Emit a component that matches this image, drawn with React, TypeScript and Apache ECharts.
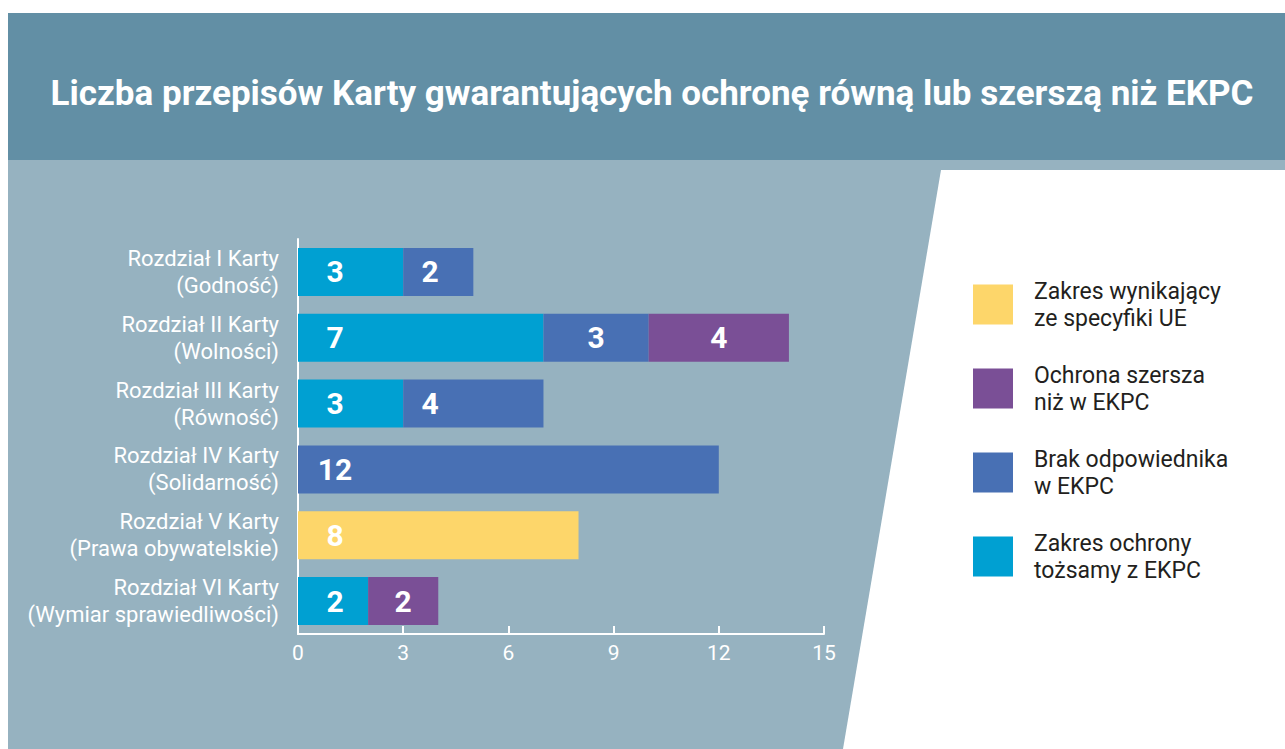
import React, { useEffect, useRef } from "react";
import * as echarts from "echarts";

const titleText = "Liczba przepisów Karty gwarantujących ochronę równą lub szerszą niż EKPC";

const categories = [
  "Rozdział I Karty\n(Godność)",
  "Rozdział II Karty\n(Wolności)",
  "Rozdział III Karty\n(Równość)",
  "Rozdział IV Karty\n(Solidarność)",
  "Rozdział V Karty\n(Prawa obywatelskie)",
  "Rozdział VI Karty\n(Wymiar sprawiedliwości)",
];

const seriesNames = [
  "Zakres ochrony\ntożsamy z EKPC",
  "Brak odpowiednika\nw EKPC",
  "Ochrona szersza\nniż w EKPC",
  "Zakres wynikający\nze specyfiki UE",
];

const tozsamy = [3, 7, 3, null, null, 2];
const brak = [2, 3, 4, 12, null, null];
const szersza = [null, 4, null, null, null, 2];
const specyfika = [null, null, null, null, 8, null];

const xTicks = [0, 3, 6, 9, 12, 15];

const colors = ["#00a0d2", "#4870b4", "#7a4f96", "#fdd66a"];

// label horizontal placement per segment (px from segment start, or "c" = centered)
const labelPlace: (number | "c")[][] = [
  [37, 37, 37, 37, 37, 37],
  [27, "c", 27, 37, 37, 37],
  ["c", "c", "c", "c", "c", "c"],
  [37, 37, 37, 37, 37, 37],
];

export default function App() {
  const ref = useRef<HTMLDivElement>(null);
  useEffect(() => {
    if (!ref.current) return;
    const chart = echarts.init(ref.current, null, { renderer: "svg" });
    const valuesList = [tozsamy, brak, szersza, specyfika];
    const series = valuesList.map((vals, si) => ({
      type: "bar",
      name: seriesNames[si],
      stack: "total",
      barCategoryGap: "27%",
      itemStyle: { color: colors[si] },
      data: vals.map((v, ci) => {
        const place = labelPlace[si][ci];
        return {
          value: v,
          label: {
            show: v != null,
            position: place === "c" ? "inside" : [place, "50%"],
            align: "center",
            verticalAlign: "middle",
            color: "#ffffff",
            fontFamily: "Roboto",
            fontWeight: "bold",
            fontSize: 30,
            formatter: "{c}",
          },
        };
      }),
    }));
    chart.setOption({
      animation: false,
      backgroundColor: "#ffffff",
      graphic: [
        { type: "rect", z: -10, shape: { x: 8, y: 13, width: 1277, height: 147 }, style: { fill: "#628fa5" } },
        { type: "rect", z: -10, shape: { x: 8, y: 160, width: 1277, height: 589 }, style: { fill: "#96b2c0" } },
        {
          type: "polygon",
          z: -9,
          shape: { points: [[941, 170], [1285, 170], [1285, 749], [843, 749]] },
          style: { fill: "#ffffff" },
        },
        {
          type: "text",
          z: 10,
          x: 652,
          y: 93,
          style: {
            text: titleText,
            fill: "#ffffff",
            font: "bold 35px Roboto",
            align: "center",
            verticalAlign: "middle",
          },
        },
      ],
      legend: {
        orient: "vertical",
        left: 968,
        top: 271,
        itemWidth: 40,
        itemHeight: 40,
        itemGap: 27,
        icon: "rect",
        data: [seriesNames[3], seriesNames[2], seriesNames[1], seriesNames[0]],
        textStyle: {
          color: "#231f20",
          fontFamily: "Roboto",
          fontSize: 23,
          lineHeight: 27,
          padding: [3, 0, 0, 16],
        },
        selectedMode: false,
      },
      grid: { left: 298, top: 239, width: 526, height: 395, containLabel: false },
      xAxis: {
        type: "value",
        min: xTicks[0],
        max: xTicks[xTicks.length - 1],
        interval: 3,
        axisLine: { show: true, lineStyle: { color: "#ffffff", width: 2 } },
        axisTick: { show: true, inside: true, length: 8, lineStyle: { color: "#ffffff", width: 2 } },
        splitLine: { show: false },
        axisLabel: { color: "#ffffff", fontFamily: "Roboto", fontSize: 21, margin: 8 },
      },
      yAxis: {
        type: "category",
        data: categories,
        inverse: true,
        axisLine: { show: true, lineStyle: { color: "#ffffff", width: 2 } },
        axisTick: { show: false },
        axisLabel: {
          color: "#ffffff",
          fontFamily: "Roboto",
          fontSize: 22,
          lineHeight: 27,
          margin: 19,
          align: "right",
        },
      },
      series,
    });
    return () => chart.dispose();
  }, []);
  return (
    <div
      ref={ref}
      style={{ position: "fixed", left: 0, top: 0, width: 1285, height: 749 }}
    />
  );
}
